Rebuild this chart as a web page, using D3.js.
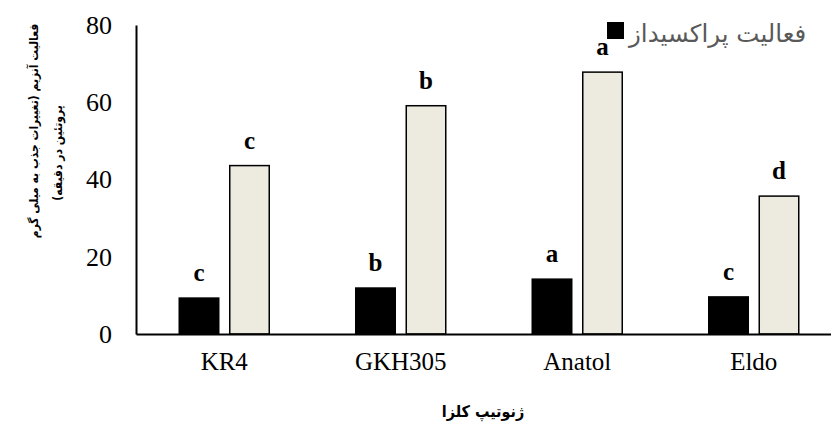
<!DOCTYPE html>
<html>
<head>
<meta charset="utf-8">
<script src="https://cdnjs.cloudflare.com/ajax/libs/d3/7.8.5/d3.min.js"></script>
<style>
  body { margin: 0; background: #fff; }
  .fa { font-family: "DejaVu Sans Condensed", "DejaVu Sans", sans-serif; direction: rtl; unicode-bidi: embed; }
  .fl { font-family: "DejaVu Sans", sans-serif; direction: rtl; unicode-bidi: embed; }
  .num { font-family: "Liberation Serif", "Times New Roman", serif; }
</style>
</head>
<body>
<script>
// genotypes and the two enzyme series
const genotypes = ["KR4", "GKH305", "Anatol", "Eldo"];
const series = ["peroxidase", "other"];
const peroxidase = [9.3, 11.9, 14.2, 9.6];
const other = [43.6, 59.1, 67.8, 35.7];
const letPeroxidase = ["c", "b", "a", "c"];
const letOther = ["c", "b", "a", "d"];
const yTicks = [0, 20, 40, 60, 80];
const legendLabel = "فعالیت پراکسیداز";
const yTitle = ["فعالیت آنزیم (تغییرات جذب به میلی گرم", "پروتئین در دقیقه)"];
const xTitle = "ژنوتیپ کلزا";

const colors = {peroxidase: "#000000", other: "#edeae0"};

const svg = d3.select("body").append("svg").attr("width", 831).attr("height", 423);

const x = d3.scaleBand().domain(genotypes).range([136, 842]);
const xs = d3.scaleBand().domain(series).range([-45, 45]).paddingInner(0.218);
const y = d3.scaleLinear().domain([0, 80]).range([334, 25]);

const rows = genotypes.map((g, i) => ({
    g: g,
    vals: [
        {s: "peroxidase", v: peroxidase[i], l: letPeroxidase[i]},
        {s: "other", v: other[i], l: letOther[i]}
    ]
}));

const grp = svg.selectAll("g.cat").data(rows).enter().append("g")
    .attr("class", "cat")
    .attr("transform", d => `translate(${x(d.g) + x.bandwidth() / 2},0)`);

grp.selectAll("rect").data(d => d.vals).enter().append("rect")
    .attr("x", d => xs(d.s))
    .attr("width", xs.bandwidth())
    .attr("y", d => y(d.v))
    .attr("height", d => y(0) - y(d.v))
    .attr("fill", d => colors[d.s])
    .attr("stroke", "#000")
    .attr("stroke-width", 1.5);

grp.selectAll("text.let").data(d => d.vals).enter().append("text")
    .attr("class", "let num")
    .attr("x", d => xs(d.s) + xs.bandwidth() / 2)
    .attr("y", d => y(d.v) - 17)
    .attr("text-anchor", "middle")
    .style("font-weight", "bold")
    .style("font-size", "25px")
    .text(d => d.l);

// axes
const yAxis = svg.append("g").attr("transform", "translate(136,0)")
    .call(d3.axisLeft(y).tickValues(yTicks).tickSize(0).tickPadding(24));
yAxis.select(".domain").attr("stroke-width", 2);
yAxis.selectAll("text").attr("class", "num").style("font-size", "26px").attr("fill", "#000");

const xAxis = svg.append("g").attr("transform", "translate(0,334)")
    .call(d3.axisBottom(x).tickSize(0).tickPadding(18));
xAxis.select(".domain").attr("stroke-width", 2);
xAxis.selectAll("text").attr("class", "num").style("font-size", "25px").attr("fill", "#000");

// titles
svg.append("text").attr("class", "fa")
    .attr("x", 483).attr("y", 417)
    .attr("text-anchor", "middle")
    .style("font-weight", "bold").style("font-size", "16px")
    .text(xTitle);

svg.selectAll("text.yt").data(yTitle).enter().append("text")
    .attr("class", "yt fa")
    .attr("transform", (d, i) => `translate(${38 + i * 24},${i ? 153 : 131}) rotate(-90)`)
    .attr("text-anchor", "middle")
    .style("font-weight", "bold").style("font-size", "12px")
    .text(d => d);

// legend
const leg = svg.append("g").attr("transform", "translate(607,22)");
leg.append("rect").attr("width", 17).attr("height", 17).attr("fill", colors.peroxidase);
leg.append("text").attr("class", "fl")
    .attr("x", 22).attr("y", 20)
    .attr("text-anchor", "end")
    .style("font-size", "24.5px").attr("fill", "#595959")
    .text(legendLabel);
</script>
</body>
</html>
